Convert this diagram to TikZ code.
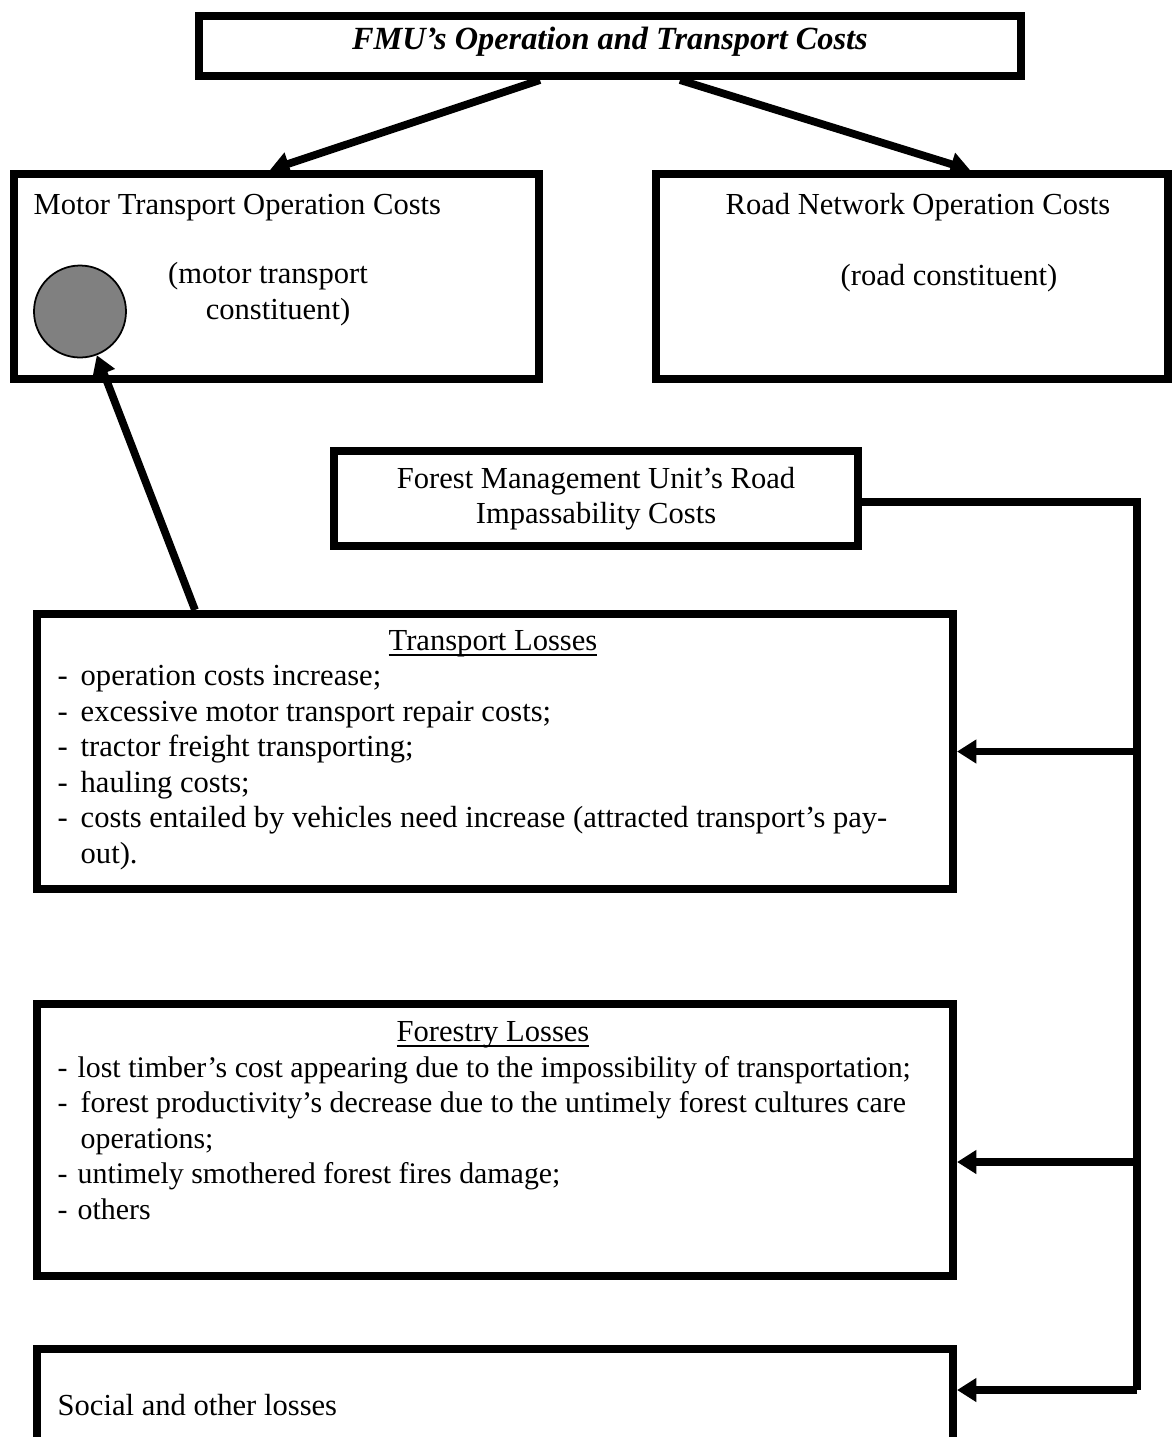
\documentclass[tikz,border=0pt]{standalone}
\usepackage{fontspec}
\setmainfont{Liberation Serif}
\usetikzlibrary{arrows.meta}
\newcommand{\dashitem}[1]{\makebox[0.23cm][l]{-}#1}
\begin{document}
\begin{tikzpicture}[>={Triangle[length=5.5pt,width=6.5pt]},
  box/.style={draw, line width=2.3pt, inner sep=0pt},
  txt/.style={font=\fontsize{8.7}{10.1}\selectfont, inner sep=0pt},
  link/.style={line width=2.2pt}]
  \clip (0,0) rectangle (11.72,-14.37);
  \fill[white] (0,0) rectangle (11.72,-14.37);
  \node[box, minimum width=8.22cm, minimum height=0.6cm] (top) at (6.10,-0.46) {};
  \node[font=\fontsize{9.2}{11}\selectfont\bfseries\itshape, inner sep=0pt, anchor=base] (toptitle)
    at (6.10,-0.49) {FMU's Operation and Transport Costs};
  \node[box, minimum width=5.25cm, minimum height=2.05cm] (motor) at (2.765,-2.765) {};
  \node[box, minimum width=5.12cm, minimum height=2.05cm] (road) at (9.12,-2.765) {};
  \node[box, txt, align=center, minimum width=5.24cm, minimum height=0.95cm] (fmu) at (5.96,-4.985)
    {Forest Management Unit's Road\\ Impassability Costs};
  \node[box, minimum width=9.16cm, minimum height=2.75cm] (transport) at (4.95,-7.515) {};
  \node[box, minimum width=9.16cm, minimum height=2.72cm] (forestry) at (4.95,-11.40) {};
  \node[box, minimum width=9.16cm, minimum height=1.11cm] (social) at (4.95,-14.045) {};
  \node[circle, draw, fill=gray, line width=0.5pt, minimum size=0.92cm, inner sep=0pt] (dot) at (0.80,-3.115) {};

  \node[txt, anchor=base west] (motortitle) at (0.33,-2.14) {Motor Transport Operation Costs};
  \node[txt, anchor=base, align=center] (motorsub) at (2.68,-3.19) {(motor transport\\ \hspace*{0.2cm}constituent)};
  \node[txt, anchor=base] (roadtitle) at (9.18,-2.14) {Road Network Operation Costs};
  \node[txt, anchor=base] (roadsub) at (9.49,-2.85) {(road constituent)};

  \node[txt, anchor=base] (ttitle) at (4.93,-6.50) {\underline{\smash{Transport Losses}}};
  \node[txt, anchor=base west, align=left] (tlist) at (0.57,-8.63) {%
    \dashitem{operation costs increase;}\\
    \dashitem{excessive motor transport repair costs;}\\
    \dashitem{tractor freight transporting;}\\
    \dashitem{hauling costs;}\\
    \dashitem{costs entailed by vehicles need increase (attracted transport's pay-}\\
    \hspace*{0.23cm}out).};

  \node[txt, anchor=base] (ftitle) at (4.93,-10.41) {\underline{\smash{Forestry Losses}}};
  \node[txt, font=\fontsize{8.5}{10.1}\selectfont, anchor=base west, align=left] (flist) at (0.57,-12.19) {%
    -\hspace{0.1cm}lost timber's cost appearing due to the impossibility of transportation;\\
    \dashitem{forest productivity's decrease due to the untimely forest cultures care}\\
    \hspace*{0.23cm}operations;\\
    -\hspace{0.1cm}untimely smothered forest fires damage;\\
    -\hspace{0.1cm}others};

  \node[txt, anchor=base west] (stext) at (0.57,-14.15) {Social and other losses};

  \draw[link, ->] ([xshift=-7mm]top.south) -- ([xshift=-0.65mm]motor.north);
  \draw[link, ->] ([xshift=7mm]top.south) -- ([xshift=5.8mm]road.north);
  \draw[link, ->] ([xshift=-30mm]transport.north) -- (dot);

  \coordinate (railtop) at (11.37,-5.02);
  \coordinate (railend) at (11.37,-13.90);
  \coordinate (fin) at ([yshift=-2.2mm]forestry.east);
  \draw[link] (fmu.east |- railtop) -- (railtop) -- (railend);
  \draw[link, ->] (railtop |- transport.east) -- (transport.east);
  \draw[link, ->] (railtop |- fin) -- (fin);
  \draw[link, ->] (railend) -- (railend -| social.east);
\end{tikzpicture}
\end{document}
